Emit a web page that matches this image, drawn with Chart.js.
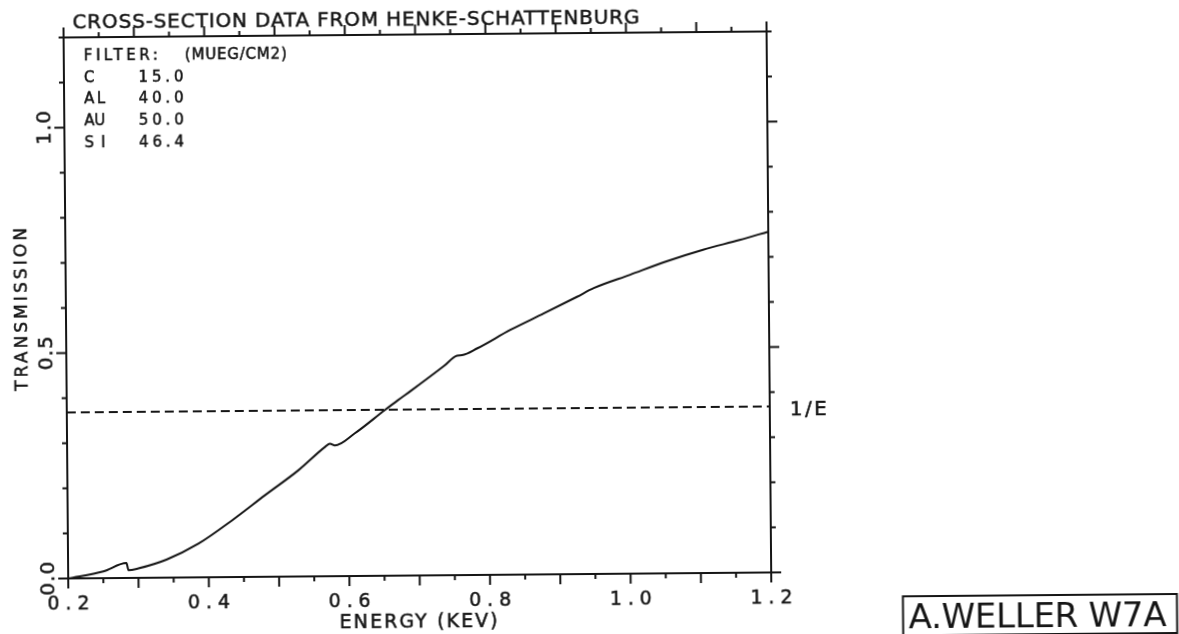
<!DOCTYPE html>
<html lang="en">
<head>
<meta charset="UTF-8">
<title>transmission</title>
<script src="https://cdn.jsdelivr.net/npm/chart.js@4"></script>
<style>
  html, body { margin: 0; padding: 0; background: #fff; overflow: hidden; }
  #wrap { width: 1179px; height: 634px; overflow: hidden; position: relative; }
  /* the plot sheet sits slightly skewed on the page */
  #chart { position: absolute; left: 0; top: 0; transform-origin: 589.5px 317px; transform: rotate(-0.49deg); }
</style>
</head>
<body>
<div id="wrap"><canvas id="chart" width="1179" height="660"></canvas></div>
<script>
// filter transmission vs photon energy (keV)
const energy = [0.20, 0.25, 0.283, 0.286, 0.30, 0.34, 0.386, 0.434, 0.481, 0.529, 0.567, 0.574, 0.581, 0.609,
                0.652, 0.671, 0.690, 0.737, 0.756, 0.763, 0.785, 0.832, 0.880, 0.927, 0.951, 1.003, 1.055, 1.107, 1.159, 1.20];
const transmission = [0.000, 0.015, 0.033, 0.017, 0.021, 0.040, 0.075, 0.126, 0.181, 0.236, 0.287, 0.294, 0.290, 0.316,
                      0.367, 0.389, 0.410, 0.464, 0.487, 0.488, 0.503, 0.543, 0.579, 0.615, 0.634, 0.663, 0.692, 0.717, 0.738, 0.756];
const oneOverE = 0.368;

const xLabelValues = [0.2, 0.4, 0.6, 0.8, 1.0, 1.2];
const xLabels = ['0.2', '0.4', '0.6', '0.8', '1.0', '1.2'];
const yLabelValues = [0, 0.5, 1.0];
const yLabels = ['0.0', '0.5', '1.0'];

const filterElements = ['C', 'AL', 'AU', 'SI'];
const filterThickness = ['15.0', '40.0', '50.0', '46.4'];

const INK = '#151515';
const FONT = '"DejaVu Sans", "Liberation Sans", sans-serif';

// draw text stretched to a given width with letter spacing
function spaced(ctx, text, x, y, size, width, plain) {
  ctx.font = size + 'px ' + FONT;
  ctx.letterSpacing = '0px';
  const w0 = ctx.measureText(text).width;
  const ls = text.length > 1 ? (width - w0) / (text.length - 1) : 0;
  ctx.letterSpacing = ls + 'px';
  ctx.fillText(text, x, y);
  if (!plain) {
    ctx.lineWidth = 0.5;
    ctx.strokeText(text, x, y);
  }
  ctx.letterSpacing = '0px';
}

function seg(ctx, x1, y1, x2, y2) {
  ctx.beginPath(); ctx.moveTo(x1, y1); ctx.lineTo(x2, y2); ctx.stroke();
}

const frame = {
  id: 'frame',
  afterDatasetsDraw(chart) {
    const { ctx, chartArea: a, scales: { x, y } } = chart;
    ctx.save();
    ctx.strokeStyle = INK;
    ctx.fillStyle = INK;
    ctx.lineWidth = 2;
    ctx.strokeRect(a.left, a.top, a.right - a.left, a.bottom - a.top);

    // energy ticks, long ones every 0.1
    for (let i = 0; i <= 20; i++) {
      const px = x.getPixelForValue(0.2 + i * 0.05);
      const len = i % 2 === 0 ? 10 : 5;
      seg(ctx, px, a.bottom, px, a.bottom + len);
      seg(ctx, px, a.top, px, a.top - len);
    }
    // transmission ticks, long ones every 0.5
    for (let i = 0; i <= 12; i++) {
      const py = y.getPixelForValue(i * 0.1);
      const len = i % 5 === 0 ? 10 : 5;
      seg(ctx, a.left, py, a.left - len, py);
      seg(ctx, a.right, py, a.right + len, py);
    }

    ctx.textBaseline = 'alphabetic';
    ctx.textAlign = 'left';

    // x tick labels
    xLabelValues.forEach((v, i) => {
      const px = x.getPixelForValue(v);
      spaced(ctx, xLabels[i], px - 21, 605, 19, 42);
    });

    // y tick labels, written upward
    yLabelValues.forEach((v, i) => {
      const py = y.getPixelForValue(v);
      ctx.save();
      ctx.translate(52, py + 17);
      ctx.rotate(-Math.PI / 2);
      spaced(ctx, yLabels[i], 0, 0, 20, 34);
      ctx.restore();
    });

    // axis titles
    spaced(ctx, 'ENERGY (KEV)', 337, 626, 19, 158);
    ctx.save();
    ctx.translate(27, 386);
    ctx.rotate(-Math.PI / 2);
    spaced(ctx, 'TRANSMISSION', 0, 0, 17, 163);
    ctx.restore();

    // heading
    spaced(ctx, 'CROSS-SECTION DATA FROM HENKE-SCHATTENBURG', 75, 24, 20, 567);

    // filter composition
    spaced(ctx, 'FILTER:', 86, 56, 15, 74);
    spaced(ctx, '(MUEG/CM2)', 187, 56, 15, 102);
    filterElements.forEach((el, i) => {
      const by = 77.5 + i * 21.7;
      spaced(ctx, el, 86, by, 15, el.length > 1 ? 21 : 11);
      spaced(ctx, filterThickness[i], 140.5, by, 15, 45);
    });

    // 1/e marker label
    spaced(ctx, '1/E', 789, 416.5, 20, 37);

    // author box
    ctx.lineWidth = 2;
    ctx.strokeRect(900.5, 599, 274, 39);
    spaced(ctx, 'A.WELLER W7A', 906, 631, 34, 258, true);

    ctx.restore();
  }
};

new Chart(document.getElementById('chart'), {
  type: 'line',
  data: {
    datasets: [
      {
        data: energy.map((e, i) => ({ x: e, y: transmission[i] })),
        borderColor: INK,
        borderWidth: 2,
        pointRadius: 0,
        cubicInterpolationMode: 'monotone',
        clip: false
      },
      {
        data: [{ x: 0.2, y: oneOverE }, { x: 1.2, y: oneOverE }],
        borderColor: INK,
        borderWidth: 2,
        borderDash: [9, 5],
        pointRadius: 0
      }
    ]
  },
  options: {
    responsive: false,
    animation: false,
    devicePixelRatio: 1,
    layout: { padding: { left: 66, right: 410, top: 33, bottom: 86 } },
    plugins: { legend: { display: false }, tooltip: { enabled: false } },
    scales: {
      x: { type: 'linear', min: 0.2, max: 1.2, display: false },
      y: { type: 'linear', min: 0, max: 1.2, display: false }
    }
  },
  plugins: [frame]
});
</script>
</body>
</html>
